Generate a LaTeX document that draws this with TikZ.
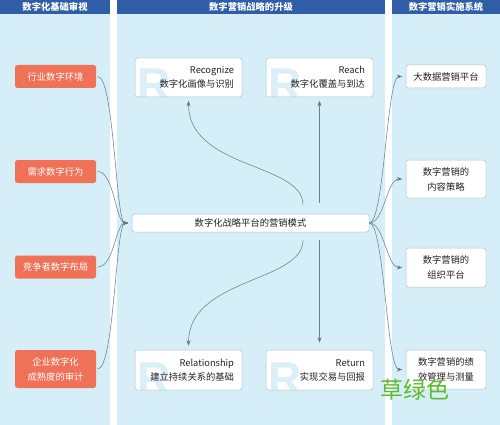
\documentclass[tikz,border=0pt]{standalone}
\usepackage{fontspec}
\usetikzlibrary{arrows.meta,calc}
\newfontfamily\cjk{Noto Sans CJK SC}
\newfontfamily\rfont{Liberation Sans}
\definecolor{bgc}{HTML}{D6EEF8}
\definecolor{hdr}{HTML}{2F5DA8}
\definecolor{orng}{HTML}{EF7157}
\definecolor{boxline}{HTML}{AFC3CF}
\definecolor{linec}{HTML}{6E7F8A}
\definecolor{tipc}{HTML}{263238}
\definecolor{rcol}{HTML}{DCEEF8}
\definecolor{txt}{HTML}{222222}
\definecolor{grn}{HTML}{5DBB2B}
\tikzset{
  hdrtext/.style={text=white, font=\cjk\bfseries\fontsize{9.3}{11}\selectfont},
  obox/.style={fill=orng, rounded corners=2.5pt, minimum width=81pt, minimum height=23pt, text=white, align=center, inner sep=1pt, font=\cjk\fontsize{9.3}{15}\selectfont},
  wbox/.style={draw=boxline, line width=0.5pt, fill=white, rounded corners=2.5pt, minimum width=80pt, minimum height=23pt, text=txt, align=center, inner sep=1pt, font=\cjk\fontsize{9.3}{15}\selectfont},
  rbox/.style={draw=boxline, line width=0.5pt, fill=white, rounded corners=2.5pt, minimum width=107pt, minimum height=39pt, text width=91pt, inner xsep=8pt, inner ysep=1pt, align=right, text=txt, font=\cjk\fontsize{9.3}{14}\selectfont,
    path picture={\node[draw=none, fill=none, minimum width=0pt, minimum height=0pt, text=rcol, text width={}, align=left, font=\rfont\bfseries\fontsize{46}{46}\selectfont, anchor=base west, inner sep=0pt] at ([xshift=2pt,yshift=-4pt]path picture bounding box.south west) {R};}},
  cbox/.style={draw=boxline, line width=0.5pt, fill=white, rounded corners=2.5pt, minimum width=237pt, minimum height=18pt, text=txt, inner sep=1pt, font=\cjk\fontsize{9.3}{11}\selectfont},
  conn/.style={draw=linec, line width=0.55pt, -{Stealth[length=5.5pt,width=4pt,fill=tipc]}},
}
\begin{document}
\begin{tikzpicture}[x=1pt,y=-1pt]
\useasboundingbox (0,0) rectangle (500,425);
\fill[white] (0,0) rectangle (500,425);
% columns
\fill[bgc] (0,0) rectangle (110,425);
\fill[bgc] (117,0) rectangle (385,425);
\fill[bgc] (392,0) rectangle (500,425);
\fill[hdr] (0,0) rectangle (110,14);
\fill[hdr] (117,0) rectangle (385,14);
\fill[hdr] (392,0) rectangle (500,14);
\node[hdrtext] (h1) at (55,7) {数字化基础审视};
\node[hdrtext] (h2) at (251,7) {数字营销战略的升级};
\node[hdrtext] (h3) at (446,7) {数字营销实施系统};
% left boxes
\node[obox] (l1) at (55.5,76.5) {行业数字环境};
\node[obox] (l2) at (55.5,171.5) {需求数字行为};
\node[obox] (l3) at (55.5,267) {竞争者数字布局};
\node[obox, minimum height=38pt] (l4) at (55.5,369) {企业数字化\\成熟度的审计};
% center
\node[cbox] (c) at (250.5,223) {数字化战略平台的营销模式};
% R boxes
\node[rbox] (recog) at (188.5,77.5) {Recognize\\数字化画像与识别};
\node[rbox] (reach) at (319.5,77.5) {Reach\\数字化覆盖与到达};
\node[rbox, minimum height=40pt] (rel) at (188.5,370) {Relationship\\建立持续关系的基础};
\node[rbox, minimum height=40pt] (ret) at (319.5,370) {Return\\实现交易与回报};
% right boxes
\node[wbox] (r1) at (446,76.5) {大数据营销平台};
\node[wbox, minimum height=38pt] (r2) at (446,179) {数字营销的\\内容策略};
\node[wbox, minimum height=39pt] (r3) at (446,267.5) {数字营销的\\组织平台};
\node[wbox, minimum height=39pt] (r4) at (446,369.5) {数字营销的绩\\效管理与测量};
% left connectors
\foreach \n in {l1,l2,l3,l4}{
  \draw[conn, shorten <=1.5pt, shorten >=3.5pt] (\n.east) .. controls +(18,0) and +(-16,0) .. (c.west);
}
% right connectors
\foreach \n in {r1,r2,r3,r4}{
  \draw[conn, shorten >=3.5pt] (c.east) .. controls +(15,0) and +(-19,0) .. (\n.west);
}
% vertical arrows
\draw[conn, shorten <=11pt, shorten >=3.5pt] (reach.south |- c.north) -- (reach.south);
\draw[conn, shorten <=8pt, shorten >=7pt] (ret.north |- c.south) -- (ret.north);
\coordinate (cu) at ([xshift=52.5pt,yshift=9pt]c.north);
\coordinate (cd) at ([xshift=52.5pt,yshift=-8pt]c.south);
\draw[conn, shorten >=3.5pt] (cu) .. controls +(0,-42) and +(0,72) .. (recog.south);
\draw[conn, shorten >=4pt] (cd) .. controls +(0,42) and +(0,-72) .. (rel.north);
% watermark
\node[text=grn, font=\cjk\fontsize{23}{25}\selectfont, inner sep=0pt] (wm) at (415,390) {草绿色};
\end{tikzpicture}
\end{document}
